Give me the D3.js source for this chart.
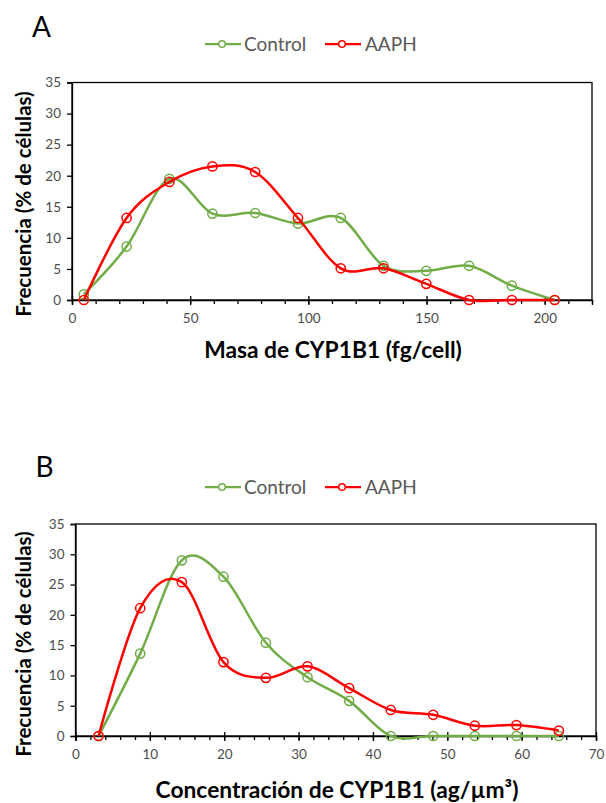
<!DOCTYPE html>
<html><head><meta charset="utf-8">
<script src="https://cdn.jsdelivr.net/npm/d3@7"></script>
<style>
body{margin:0;background:#fff;}
svg{display:block;font-family:Lato,"Open Sans",sans-serif;}
</style></head>
<body><svg id="c" width="606" height="803"></svg>
<script>
// ---------- data ----------
const seriesNames = ["Control", "AAPH"];
const seriesColors = ["#70AD47", "#FF0000"];

// Panel A: Masa de CYP1B1 (fg/cell)
const massBins = [5, 23.1, 41.2, 59.4, 77.5, 95.6, 113.7, 131.8, 149.9, 168, 186.1, 204.2];
const massControl = [0.9, 8.6, 19.5, 13.9, 14.0, 12.3, 13.2, 5.5, 4.7, 5.5, 2.3, 0];
const massAAPH    = [0, 13.2, 19.0, 21.5, 20.6, 13.2, 5.1, 5.1, 2.6, 0, 0, 0];
const massTicks = [0, 50, 100, 150, 200];

// Panel B: Concentración de CYP1B1 (ag/µm³)
const concBins = [3.1, 8.7, 14.3, 19.9, 25.6, 31.2, 36.8, 42.4, 48.1, 53.7, 59.3, 65.0];
const concControl = [0, 13.6, 29.0, 26.3, 15.4, 9.7, 5.8, 0, 0, 0, 0, 0];
const concAAPH    = [0, 21.1, 25.4, 12.2, 9.6, 11.5, 7.9, 4.3, 3.5, 1.7, 1.8, 0.9];
const concTicks = [0, 10, 20, 30, 40, 50, 60, 70];

const yTicks = [0, 5, 10, 15, 20, 25, 30, 35];

const svg = d3.select("#c");

function panel(o) {
  const g = svg.append("g");
  const x = d3.scaleLinear().domain(o.xDomain).range([o.left, o.right]);
  const y = d3.scaleLinear().domain([0, 35]).range([o.bottom, o.top]);

  // panel letter
  g.append("text").attr("x", o.left - 40).attr("y", o.letterY)
    .attr("font-size", 28).attr("fill", "#000").text(o.letter);

  // legend
  const lg = g.append("g");
  const legItems = [{x0: 205, tx: 244}, {x0: 325, tx: 365}];
  seriesNames.forEach((n, i) => {
    const it = legItems[i];
    lg.append("line").attr("x1", it.x0).attr("x2", it.x0 + 36)
      .attr("y1", o.legendY).attr("y2", o.legendY)
      .attr("stroke", seriesColors[i]).attr("stroke-width", 2.25);
    lg.append("circle").attr("cx", it.x0 + 17).attr("cy", o.legendY).attr("r", 3.3)
      .attr("fill", "#fff").attr("stroke", seriesColors[i]).attr("stroke-width", 1.5);
    lg.append("text").attr("x", it.tx).attr("y", o.legendY).attr("dy", "0.36em")
      .attr("font-size", 19).attr("fill", "#595959").text(n);
  });

  // plot box
  g.append("rect").attr("x", o.left).attr("y", o.top)
    .attr("width", o.right - o.left).attr("height", o.bottom - o.top)
    .attr("fill", "none").attr("stroke", "#000").attr("stroke-width", 1.3);

  // y axis
  const ya = d3.axisLeft(y).tickValues(yTicks).tickSize(5).tickPadding(6);
  const yg = g.append("g").attr("transform", `translate(${o.left},0)`).call(ya);
  yg.select(".domain").attr("stroke", "#000").attr("stroke-width", 1.3);
  yg.selectAll(".tick line").attr("stroke", "#000").attr("stroke-width", 1.3);
  yg.selectAll(".tick text").attr("font-size", 13.5).attr("fill", "#4d4d4d")
    .attr("font-family", "Lato, 'Open Sans', sans-serif");

  // x minor ticks
  const minor = d3.range(o.xDomain[0], o.xDomain[1] + 1e-9, o.minorStep);
  const xm = d3.axisBottom(x).tickValues(minor).tickSize(4).tickFormat("");
  const xmg = g.append("g").attr("transform", `translate(0,${o.bottom})`).call(xm);
  xmg.select(".domain").remove();
  xmg.selectAll(".tick line").attr("stroke", "#000").attr("stroke-width", 1.3);

  // x major ticks
  const xa = d3.axisBottom(x).tickValues(o.xTicks).tickSize(5).tickPadding(8);
  const xg = g.append("g").attr("transform", `translate(0,${o.bottom})`).call(xa);
  xg.select(".domain").attr("stroke", "#000").attr("stroke-width", 1.3);
  xg.selectAll(".tick line").attr("stroke", "#000").attr("stroke-width", 1.3).attr("y1", -4);
  xg.selectAll(".tick text").attr("font-size", 13.5).attr("fill", "#4d4d4d")
    .attr("font-family", "Lato, 'Open Sans', sans-serif");

  // axis titles
  g.append("text").attr("x", o.xTitleX).attr("y", o.xTitleY)
    .attr("text-anchor", "middle").attr("font-weight", "bold").attr("font-size", o.xTitleSize)
    .attr("fill", "#000").text(o.xTitle);
  g.append("text").attr("transform", `translate(${o.yTitleX},${o.yTitleY}) rotate(-90)`)
    .attr("text-anchor", "middle").attr("font-weight", "bold").attr("font-size", 20.5)
    .attr("fill", "#000").text("Frecuencia (% de células)");

  // series
  const line = d3.line().x(d => x(d[0])).y(d => y(d[1])).curve(d3.curveCatmullRom.alpha(0));
  o.series.forEach((vals, i) => {
    const pts = o.bins.map((b, j) => [b, vals[j]]);
    g.append("path").attr("d", line(pts)).attr("fill", "none")
      .attr("stroke", seriesColors[i]).attr("stroke-width", 2.5);
    g.selectAll(null).data(pts).enter().append("circle")
      .attr("cx", d => x(d[0])).attr("cy", d => y(d[1])).attr("r", 4.6)
      .attr("fill", "none").attr("stroke", seriesColors[i]).attr("stroke-width", 1.5);
  });
}

panel({
  letter: "A", letterY: 37, legendY: 44,
  left: 72, right: 592, top: 82.5, bottom: 300,
  xDomain: [0, 220], xTicks: massTicks, minorStep: 10,
  bins: massBins, series: [massControl, massAAPH],
  xTitle: "Masa de CYP1B1 (fg/cell)", xTitleX: 333, xTitleY: 358, xTitleSize: 22.8,
  yTitleX: 31, yTitleY: 204
});

panel({
  letter: "B", letterY: 477, legendY: 487,
  left: 75.5, right: 596, top: 524, bottom: 736,
  xDomain: [0, 70], xTicks: concTicks, minorStep: 2,
  bins: concBins, series: [concControl, concAAPH],
  xTitle: "Concentración de CYP1B1 (ag/µm³)", xTitleX: 337, xTitleY: 798, xTitleSize: 22.8,
  yTitleX: 31, yTitleY: 644
});
</script>
</body></html>
